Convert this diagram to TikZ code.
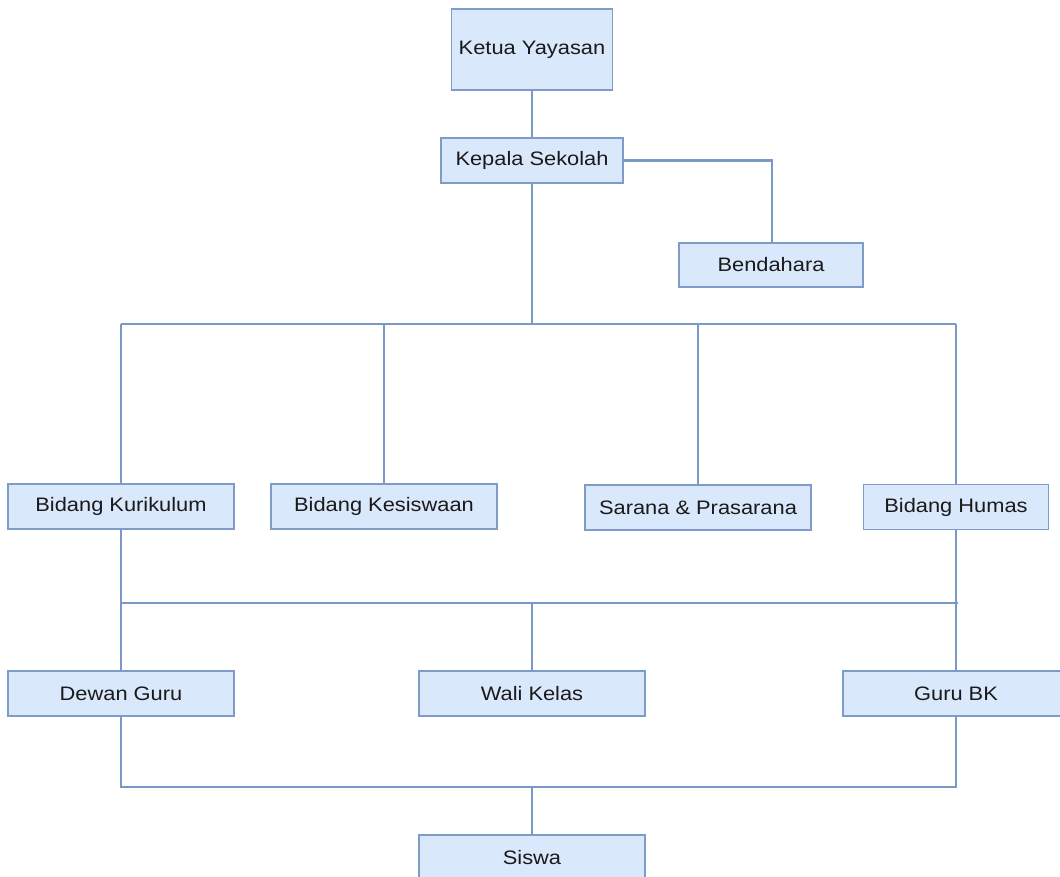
\documentclass[tikz,border=0pt]{standalone}
\usepackage{fontspec}
\setmainfont[FakeStretch=1.12]{Liberation Sans}
\definecolor{boxfill}{HTML}{DAE8FC}
\definecolor{boxline}{HTML}{7F9CC9}
\definecolor{wire}{HTML}{7B99C6}
\definecolor{txt}{HTML}{1A1A1A}
\begin{document}
\begin{tikzpicture}[x=1pt,y=-1pt,
  orgbox/.style={draw=boxline,fill=boxfill,line width=1.4pt,rectangle,inner sep=0pt,
    text=txt,font=\fontsize{19.5}{23}\selectfont,minimum height=45pt},
  wireline/.style={draw=wire,line width=2.6pt}]
\useasboundingbox (0,0) rectangle (1060,877);
\clip (0,0) rectangle (1060,877);
\fill[white] (0,0) rectangle (1060,877);
% nodes
\node[orgbox,minimum width=161pt,minimum height=81pt] (ketua) at (532,49.5) {Ketua Yayasan};
\node[orgbox,minimum width=182pt] (kepala) at (532,160.5) {Kepala Sekolah};
\node[orgbox,minimum width=184pt,minimum height=44pt] (bend) at (771,265) {Bendahara};
\node[orgbox,minimum width=226pt] (kur) at (121,506.5) {Bidang Kurikulum};
\node[orgbox,minimum width=226pt] (kes) at (384,506.5) {Bidang Kesiswaan};
\node[orgbox,minimum width=226pt] (sar) at (698,507.5) {Sarana \& Prasarana};
\node[orgbox,minimum width=185pt] (hum) at (956,507) {Bidang Humas};
\node[orgbox,minimum width=226pt] (dewan) at (121,693.5) {Dewan Guru};
\node[orgbox,minimum width=226pt] (wali) at (532,693.5) {Wali Kelas};
\node[orgbox,minimum width=226pt] (bk) at (956,693.5) {Guru BK};
\node[orgbox,minimum width=226pt] (siswa) at (532,857.5) {Siswa};
% bus coordinates
\coordinate (b1m) at (532,324);
\coordinate (b1l) at (121,324);
\coordinate (b1r) at (956,324);
\coordinate (b1kes) at (384,324);
\coordinate (b1sar) at (698,324);
\coordinate (b2l) at (121,603);
\coordinate (b2r) at (958,603);
\coordinate (b2m) at (532,603);
\coordinate (b3l) at (121,787);
\coordinate (b3r) at (956,787);
\coordinate (b3m) at (532,787);
\coordinate (bcor) at (772,160.5);
% connectors
\draw[wireline] (ketua.south) -- (kepala.north);
\draw[wireline] (kepala.east) -- (bcor) -- (bend.north -| bcor);
\draw[wireline] (kepala.south) -- (b1m);
\draw[wireline] (b1l) -- (b1r);
\draw[wireline] (b1l) -- (kur.north);
\draw[wireline] (b1kes) -- (kes.north);
\draw[wireline] (b1sar) -- (sar.north);
\draw[wireline] (b1r) -- (hum.north);
\draw[wireline] (kur.south) -- (dewan.north);
\draw[wireline] (hum.south) -- (bk.north);
\draw[wireline] (b2l) -- (b2r);
\draw[wireline] (b2m) -- (wali.north);
\draw[wireline] (dewan.south) -- (b3l) -- (b3r) -- (bk.south);
\draw[wireline] (b3m) -- (siswa.north);
\end{tikzpicture}
\end{document}
